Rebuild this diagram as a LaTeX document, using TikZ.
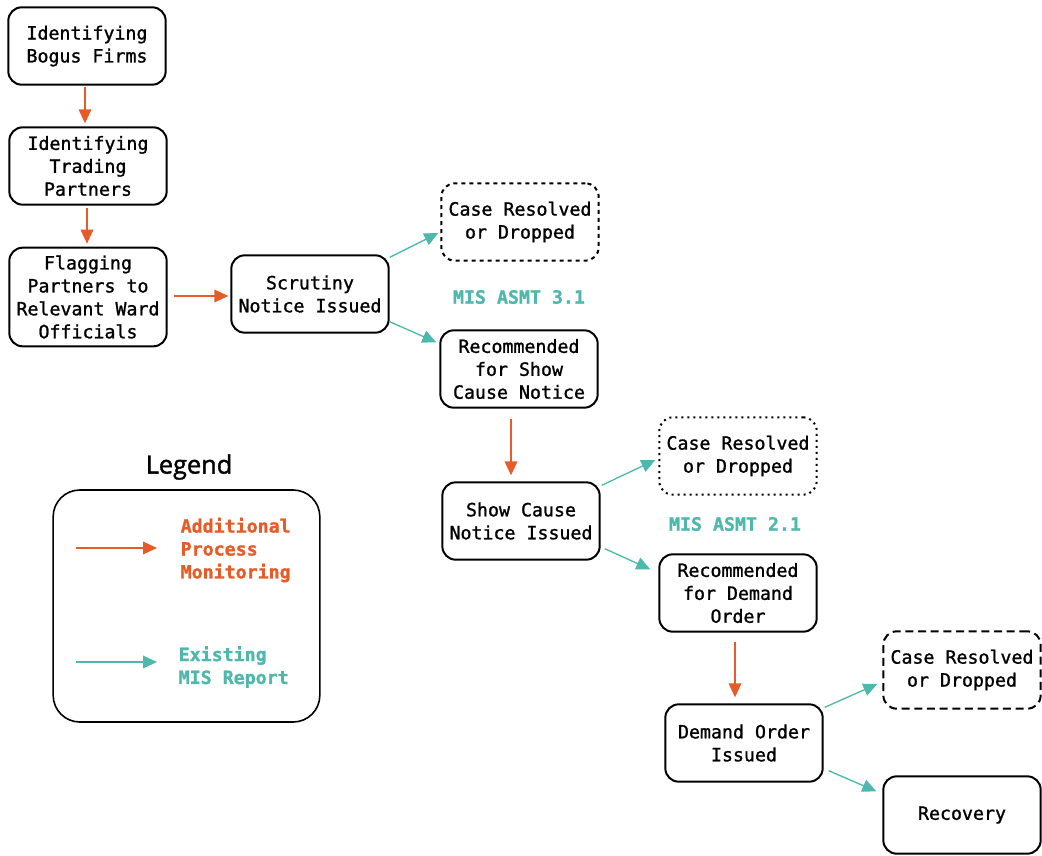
\documentclass[tikz,border=0pt]{standalone}
\usepackage{fontspec}
\setmonofont{DejaVu Sans Mono}[FakeBold=1.2]
\newfontfamily\legendfont{Open Sans}[FakeBold=1.5]
\definecolor{addorange}{RGB}{230, 92, 40}
\definecolor{misteal}{RGB}{78, 184, 172}
\usetikzlibrary{arrows.meta, calc}

\begin{document}
\begin{tikzpicture}[x=0.75pt, y=-0.75pt,
  box/.style={draw=black, line width=1.5pt, rounded corners=10pt, minimum width=118pt, minimum height=58pt, align=center, inner sep=2pt, font=\ttfamily\fontsize{13.7}{17.2}\selectfont},
  openbox/.style={box, dash pattern=on 3pt off 3pt},
  dotbox/.style={box, dash pattern=on 1.5pt off 3pt},
  longdashbox/.style={box, dash pattern=on 6pt off 3.5pt},
  procarrow/.style={draw=addorange, line width=1pt, -{Triangle[length=10.5pt, width=9.5pt]}},
  misarrow/.style={draw=misteal, line width=1pt, -{Triangle[length=10.5pt, width=9.5pt]}},
  mislabel/.style={text=misteal, font=\ttfamily\bfseries\fontsize{13.7}{17.2}\selectfont},
  legendtext/.style={anchor=west, align=left, font=\ttfamily\bfseries\fontsize{13.7}{17.2}\selectfont}]
  \useasboundingbox (0,0) rectangle (1042,856);

  % Left column: identification steps
  \node[box] (bogus) at (87,46) {Identifying\\Bogus Firms};
  \node[box] (trading) at (88,166) {Identifying\\Trading\\Partners};
  \node[box, minimum height=74pt] (flagging) at (88,297) {Flagging\\Partners to\\Relevant Ward\\Officials};

  % Scrutiny stage
  \node[box] (scrutiny) at (310,294) {Scrutiny\\Notice Issued};
  \node[openbox] (resolvedA) at (520,222) {Case Resolved\\or Dropped};
  \node[mislabel] (asmtA) at (519,297) {MIS ASMT 3.1};
  \node[box] (recshow) at (519,369) {Recommended\\for Show\\Cause Notice};

  % Show cause stage
  \node[box] (showcause) at (521,521) {Show Cause\\Notice Issued};
  \node[dotbox] (resolvedB) at (738,456) {Case Resolved\\or Dropped};
  \node[mislabel] (asmtB) at (735,524) {MIS ASMT 2.1};
  \node[box] (recdemand) at (738,593) {Recommended\\for Demand\\Order};

  % Demand stage
  \node[box] (demand) at (744,743) {Demand Order\\Issued};
  \node[longdashbox] (resolvedC) at (962,670) {Case Resolved\\or Dropped};
  \node[box] (recovery) at (962,815) {Recovery};

  % Process arrows
  \draw[procarrow] ($(bogus.south)+(-2,1)$) -- ($(trading.north)+(-3,-3)$);
  \draw[procarrow] ($(trading.south)+(-1,2)$) -- ($(flagging.north)+(-1,-3)$);
  \draw[procarrow] ($(flagging.east)+(6,-1)$) -- ($(scrutiny.west)+(-2,2)$);
  \draw[procarrow] ($(recshow.south)+(-8,10)$) -- ($(showcause.north)+(-10,-6)$);
  \draw[procarrow] ($(recdemand.south)+(-3,9)$) -- ($(demand.north)+(-9,-6)$);

  % MIS arrows
  \draw[misarrow] ($(scrutiny.north east)+(0,3)$) -- ($(resolvedA.west)+(-2,11)$);
  \draw[misarrow] ($(scrutiny.south east)+(0,-12)$) -- ($(recshow.north west)+(-3,13)$);
  \draw[misarrow] ($(showcause.north east)+(1,4)$) -- ($(resolvedB.west)+(-3,4)$);
  \draw[misarrow] ($(showcause.south east)+(4,-12)$) -- ($(recdemand.north west)+(-8,16)$);
  \draw[misarrow] ($(demand.north east)+(1,4)$) -- ($(resolvedC.west)+(-5,14)$);
  \draw[misarrow] ($(demand.south east)+(5,-12)$) -- ($(recovery.north west)+(-6,16)$);

  % Legend
  \node[font=\legendfont\fontsize{19}{22}\selectfont] (legendtitle) at (189,467) {Legend};
  \node[draw=black, line width=1.2pt, rounded corners=20pt, minimum width=200pt, minimum height=174pt] (legend) at (186.5,606) {};
  \coordinate (procfrom) at (76,548);
  \coordinate (procto) at (157,548);
  \coordinate (misfrom) at (76,662);
  \coordinate (misto) at (157,662);
  \draw[procarrow] (procfrom) -- (procto);
  \draw[misarrow] (misfrom) -- (misto);
  \node[legendtext, text=addorange] (proctext) at (176,550) {Additional\\Process\\Monitoring};
  \node[legendtext, text=misteal] (mistext) at (174,667) {Existing\\MIS Report};
\end{tikzpicture}
\end{document}
